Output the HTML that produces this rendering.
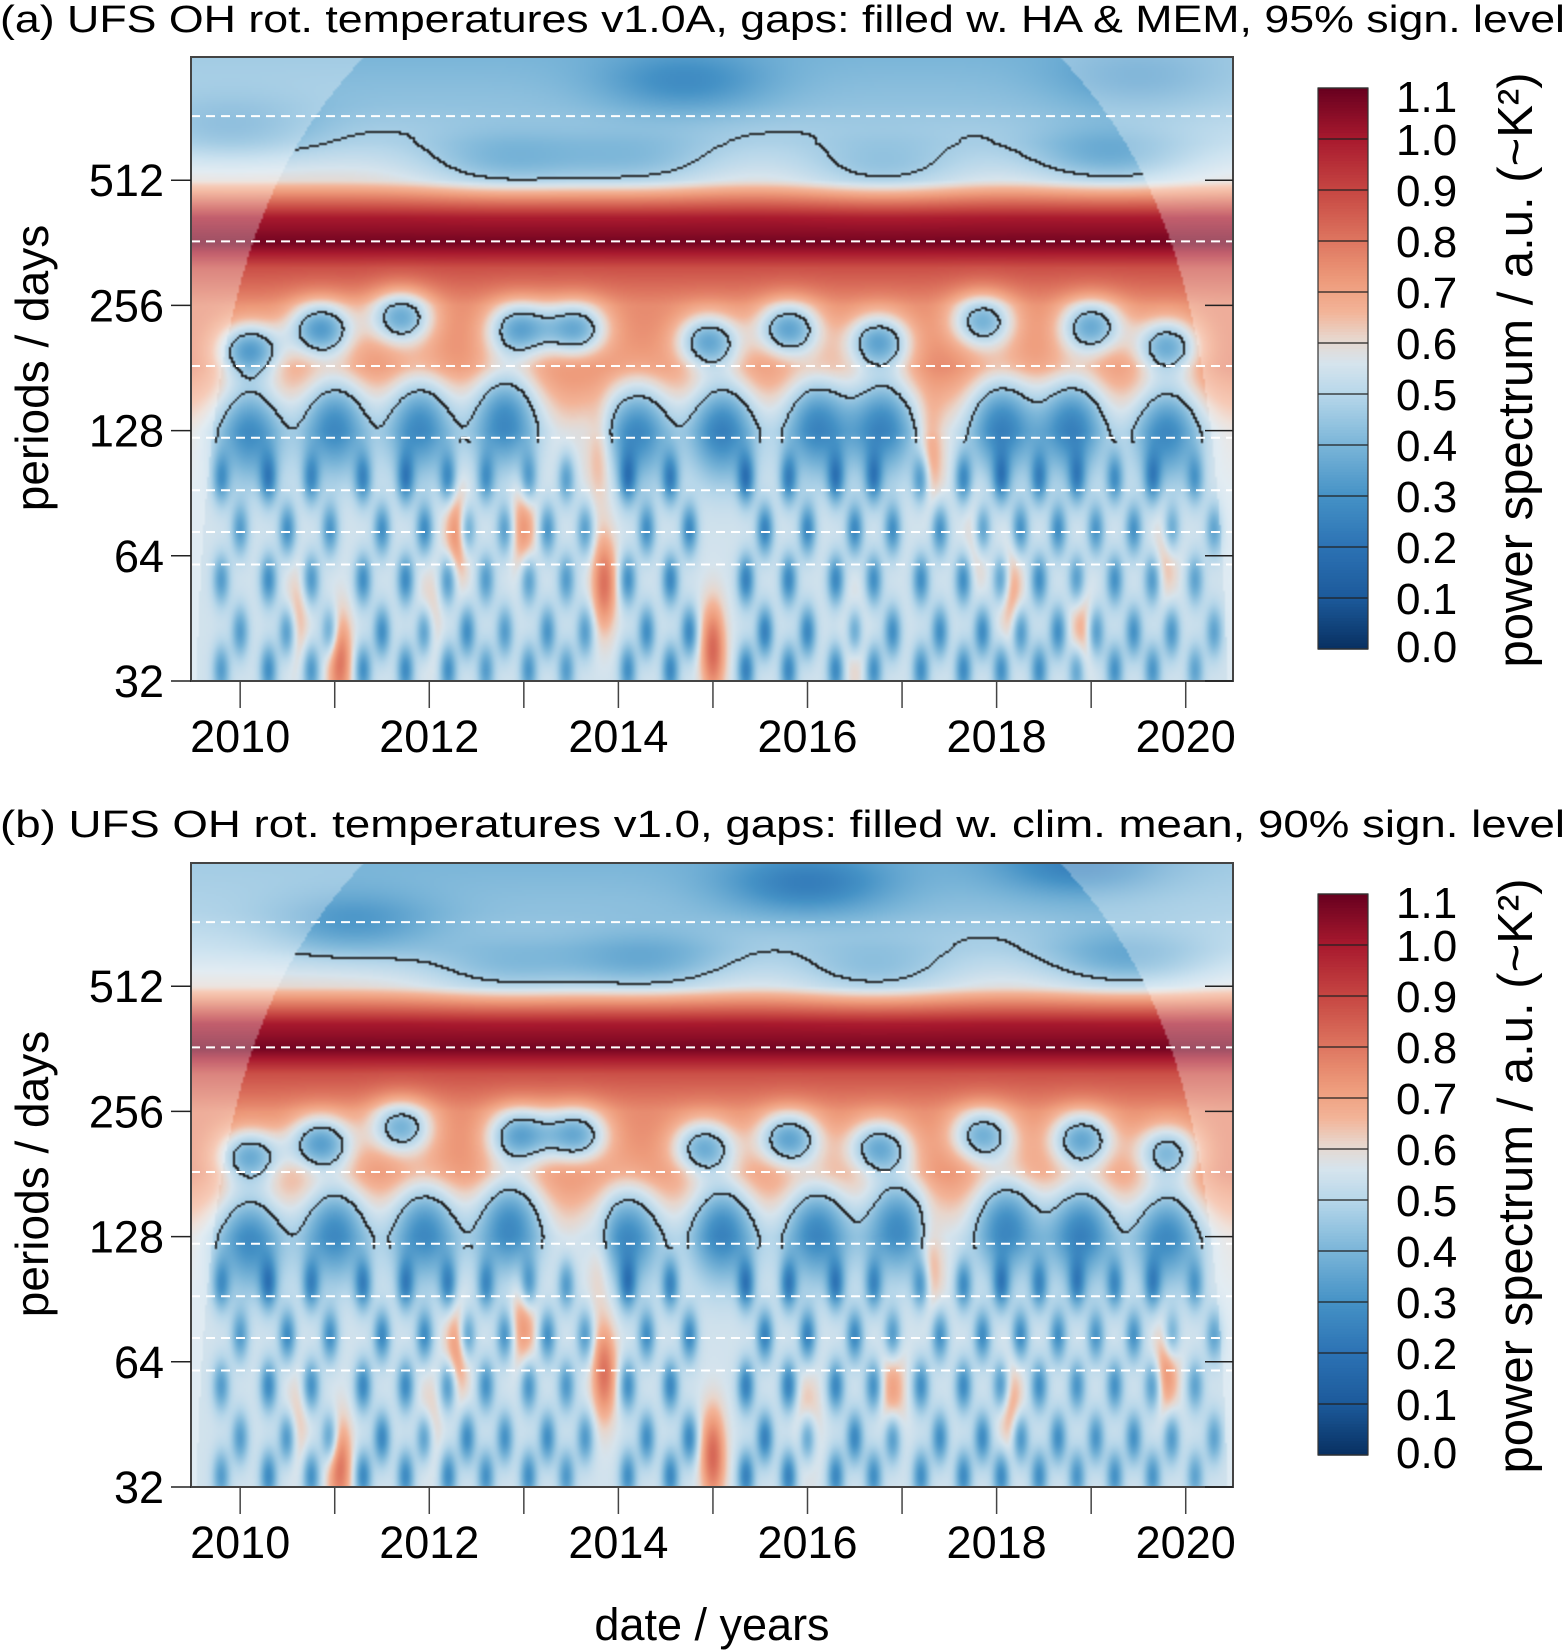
<!DOCTYPE html>
<html><head><meta charset="utf-8">
<style>
html,body{margin:0;padding:0;background:#fff;}
#wrap{position:relative;width:1567px;height:1650px;overflow:hidden;font-family:"Liberation Sans",sans-serif;}
canvas{position:absolute;}
svg{position:absolute;left:0;top:0;}
</style></head>
<body>
<div id="wrap">
<canvas id="ca" width="521" height="312" style="left:191px;top:57px;width:1042px;height:624px;"></canvas>
<canvas id="cb" width="521" height="312" style="left:191px;top:863px;width:1042px;height:624px;"></canvas>
<svg id="ov" width="1567" height="1650"></svg>
</div>
<script>
// ---- data ----
const baseL = [5, 6, 6.5, 7, 7.5, 8, 8.3, 8.5, 8.7, 9, 9.3, 9.6, 10];
const baseV = [0.55, 0.55, 0.56, 0.6, 0.77, 0.76, 0.88, 1.08, 1.0, 0.6, 0.5, 0.44, 0.4];
const ring220A = [[2010.1,200,.4],[2010.85,225,.42],[2011.7,240,.38],[2012.95,225,.38],[2013.55,225,.38],[2014.95,210,.38],[2015.8,225,.4],[2016.75,210,.38],[2017.85,235,.36],[2019.0,228,.38],[2019.8,205,.36]];
const ring220B = [[2010.1,200,.36],[2010.85,215,.4],[2011.7,235,.36],[2012.95,225,.38],[2013.55,225,.38],[2014.9,210,.36],[2015.8,220,.4],[2016.75,210,.36],[2017.85,225,.36],[2018.9,220,.38],[2019.8,205,.32]];
const band128A = [[2010.1,130,.32],[2011.0,135,.34],[2011.9,135,.34],[2012.8,140,.36],[2014.2,130,.33],[2015.1,132,.36],[2016.1,135,.35],[2016.8,135,.35],[2018.05,135,.36],[2018.8,135,.36],[2019.8,130,.33]];
const band128B = [[2010.1,128,.32],[2011.0,135,.34],[2011.95,135,.34],[2012.85,140,.36],[2014.1,132,.33],[2015.1,135,.36],[2016.1,135,.35],[2016.95,140,.35],[2018.1,140,.36],[2018.9,135,.36],[2019.8,132,.33]];
const lowYears = [2009.8,2010.3,2010.75,2011.3,2011.75,2012.2,2012.6,2013.05,2013.45,2014.1,2014.55,2015.35,2015.8,2016.3,2016.7,2017.2,2017.65,2018.05,2018.45,2018.85,2019.25,2019.65,2020.1];
const lowAmpA = [.22,.26,.24,.26,.27,.26,.22,.24,.22,.26,.28,.3,.28,.28,.26,.26,.27,.26,.26,.24,.25,.24,.2];
const lowAmpB = [.22,.27,.26,.28,.27,.27,.25,.26,.23,.26,.28,.3,.3,.28,.26,.26,.27,.28,.26,.24,.25,.24,.2];
const lowPeriods = [98, 74, 56, 42, 34];
const orangeA = [[2011.05,36,.26],[2012.3,72,.22],[2013.0,75,.18],[2013.85,55,.26],[2015.0,38,.28],[2018.15,52,.16],[2019.8,65,.12],[2010.6,45,.12],[2016.5,40,.12],[2018.9,42,.14],[2013.8,110,.12],[2017.3,110,.14],[2012.0,45,.1],[2017.8,70,.1]];
const orangeB = [[2011.05,36,.26],[2012.3,68,.2],[2013.0,80,.18],[2013.85,60,.26],[2015.0,38,.28],[2016.0,45,.14],[2016.9,55,.16],[2018.15,50,.16],[2019.8,62,.2],[2010.6,45,.1],[2013.8,110,.1],[2017.3,110,.14],[2012.0,45,.1]];
const topA = [[2014.7,880,.14],[2012.8,560,.14],[2014.2,560,.12],[2016.8,540,.12],[2019.2,580,.16],[2009.9,680,.12],[2019.5,900,.1]];
const topB = [[2016.0,900,.18],[2018.9,1000,.16],[2014.3,580,.16],[2011.2,720,.14],[2019.4,590,.16],[2016.7,550,.12],[2012.8,560,.12]];
const cbLevels = [0.0,0.1,0.2,0.3,0.4,0.5,0.6,0.7,0.8,0.9,1.0,1.1];
const periodTicks = [32, 64, 128, 256, 512];
const yearTicks = [2010,2011,2012,2013,2014,2015,2016,2017,2018,2019,2020];
const dashPeriods = [730, 365, 183, 123, 92, 73, 61];

// ---- scales ----
const PL=191, PR=1233, PW=1042, PH=624;
const Y0=2009.48, Y1=2020.5;
function xOf(yr){return PL+(yr-Y0)/(Y1-Y0)*PW;}
function yOf(p,B){return B-(Math.log2(p)-5)*125.2;}
const cStops=[[0,[8,48,97]],[0.1,[28,90,155]],[0.2,[44,114,180]],[0.3,[69,146,198]],[0.4,[122,181,216]],[0.5,[183,215,234]],[0.56,[214,228,237]],[0.61,[232,214,204]],[0.66,[243,180,152]],[0.72,[238,156,124]],[0.8,[222,118,96]],[0.9,[198,70,66]],[1.0,[168,25,46]],[1.1,[103,0,31]]];
function col(v){v=Math.max(0,Math.min(1.1,v));for(let i=1;i<cStops.length;i++){if(v<=cStops[i][0]){const a=cStops[i-1],b=cStops[i];const t=(v-a[0])/(b[0]-a[0]);return [0,1,2].map(k=>a[1][k]+(b[1][k]-a[1][k])*t);}}return cStops[cStops.length-1][1];}
function interp(xs,ys,x){if(x<=xs[0])return ys[0];for(let i=1;i<xs.length;i++)if(x<=xs[i]){const t=(x-xs[i-1])/(xs[i]-xs[i-1]);return ys[i-1]+(ys[i]-ys[i-1])*t;}return ys[ys.length-1];}
function g(yr,L,y0,p0,sx,sl){const a=(yr-y0)/sx,b=(L-Math.log2(p0))/sl;return Math.exp(-a*a-b*b);}
function value(yr,L,ring,band,lowAmp,orange,top){
  let v=interp(baseL,baseV,L);
  ring.forEach(r=>v-=r[2]*g(yr,L,r[0],r[1],0.34,0.22));
  band.forEach(r=>v-=r[2]*g(yr,L,r[0],r[1],0.36,0.42));
  lowYears.forEach((y,i)=>lowPeriods.forEach((p,j)=>{const yy=y+((j%2)?0.2:0);v-=lowAmp[i]*g(yr,L,yy,p,0.09,0.2);}));
  orange.forEach(r=>v+=r[2]*g(yr,L,r[0],r[1],0.13,0.38));
  top.forEach(r=>v-=r[2]*g(yr,L,r[0],r[1],0.9,0.25));
  return v;
}
function coi(yr){const dt=Math.min(yr-Y0,Y1-yr);return Math.log2(Math.max(dt,0.001)*365/0.66);}
function render(id,ring,band,lowAmp,orange,top){
  const c=document.getElementById(id),ctx=c.getContext('2d');
  const W=c.width,H=c.height,img=ctx.createImageData(W,H);
  const vals=new Float32Array(W*H);
  for(let j=0;j<H;j++){const L=5+(H-j-0.5)/H*(PH/125.2);
    for(let i=0;i<W;i++){const yr=Y0+(i+0.5)/W*(Y1-Y0);vals[j*W+i]=value(yr,L,ring,band,lowAmp,orange,top);}}
  for(let j=0;j<H;j++){const L=5+(H-j-0.5)/H*(PH/125.2);
    for(let i=0;i<W;i++){const yr=Y0+(i+0.5)/W*(Y1-Y0);const v=vals[j*W+i];let cc=col(v);
      const inside=L<coi(yr);
      if(!inside)cc=cc.map(k=>k+(255-k)*0.3);
      else if(L>6.9&&i>0&&j>0){const th=0.47;if((v<th)!==(vals[j*W+i-1]<th)||(v<th)!==(vals[(j-1)*W+i]<th))cc=[30,30,30];}
      const o=(j*W+i)*4;img.data[o]=cc[0];img.data[o+1]=cc[1];img.data[o+2]=cc[2];img.data[o+3]=255;}}
  ctx.putImageData(img,0,0);
}
render('ca',ring220A,band128A,lowAmpA,orangeA,topA);
render('cb',ring220B,band128B,lowAmpB,orangeB,topB);

// ---- axes overlay ----
const NS='http://www.w3.org/2000/svg',ov=document.getElementById('ov');
function el(tag,attrs,parent){const e=document.createElementNS(NS,tag);for(const k in attrs)e.setAttribute(k,attrs[k]);(parent||ov).appendChild(e);return e;}
function txt(s,attrs,parent){const e=el('text',attrs,parent);e.textContent=s;return e;}
const panels=[{T:57,B:681,title:'(a) UFS OH rot. temperatures v1.0A, gaps: filled w. HA & MEM, 95% sign. level',ty:19,tag:'a'},
              {T:863,B:1487,title:'(b) UFS OH rot. temperatures v1.0, gaps: filled w. clim. mean, 90% sign. level',ty:824,tag:'b'}];
panels.forEach(P=>{
  const grp=el('g',{});
  
  
  const t=txt(P.title,{x:0,y:P.ty+13,'font-size':38,textLength:1565,lengthAdjust:'spacingAndGlyphs'},grp);
  
  
  dashPeriods.forEach(p=>{const l=el('line',{x1:PL,x2:PR,y1:yOf(p,P.B),y2:yOf(p,P.B),stroke:'#fff','stroke-width':2,'stroke-dasharray':'9,6'},grp);
    });
  const fr=el('rect',{x:PL,y:P.T,width:PW,height:PH,fill:'none',stroke:'#444','stroke-width':2},grp);
  
  periodTicks.forEach(p=>{const y=yOf(p,P.B);
    el('line',{x1:PL-20,x2:PL,y1:y,y2:y,stroke:'#222','stroke-width':1.5},grp);
    el('line',{x1:PR-28,x2:PR,y1:y,y2:y,stroke:'#222','stroke-width':1.5},grp);
    const l=txt(String(p),{x:PL-27,y:y+16,'font-size':45,'text-anchor':'end'},grp);
    });
  yearTicks.forEach(yr=>{const x=xOf(yr);
    el('line',{x1:x,x2:x,y1:P.B,y2:P.B+27,stroke:'#444','stroke-width':1.5},grp);
    if(yr%2===0){const l=txt(String(yr),{x:x,y:P.B+71,'font-size':45,'text-anchor':'middle'},grp);
      }});
  const yl=txt('periods / days',{x:0,y:0,'font-size':46,'text-anchor':'middle',transform:'translate(48,'+(P.T+311)+') rotate(-90)'},grp);
  
  const cbT=P.T+31, cbB=P.T+592, cbX=1318, cbW=50, n=cbLevels.length-1, h=(cbB-cbT)/n;
  const cb=el('g',{},grp);
  
  for(let i=0;i<200;i++){const v=1.1*(1-(i+0.5)/200);const c=col(v);
    el('rect',{x:cbX,y:cbT+i*(cbB-cbT)/200,width:cbW,height:(cbB-cbT)/200+0.6,fill:'rgb('+c.map(Math.round).join(',')+')'},cb);}
  cbLevels.forEach((lv,i)=>{const y=cbB-i*h;
    el('line',{x1:cbX,x2:cbX+cbW,y1:y,y2:y,stroke:'#222','stroke-width':1.2},cb);
    const yc = i===n ? y+8 : (i===0 ? y-3 : y);
    const l=txt(lv.toFixed(1),{x:1396,y:yc+16,'font-size':44},cb);
    });
  el('rect',{x:cbX,y:cbT,width:cbW,height:cbB-cbT,fill:'none',stroke:'#333','stroke-width':1.2},cb);
  const ct=txt('power spectrum / a.u. (~K²)',{x:0,y:0,'font-size':49,'text-anchor':'middle',transform:'translate(1532,'+(P.T+313)+') rotate(-90)'},grp);
  
});
const xt=txt('date / years',{x:712,y:1640,'font-size':45,'text-anchor':'middle'});

</script>
</body></html>
